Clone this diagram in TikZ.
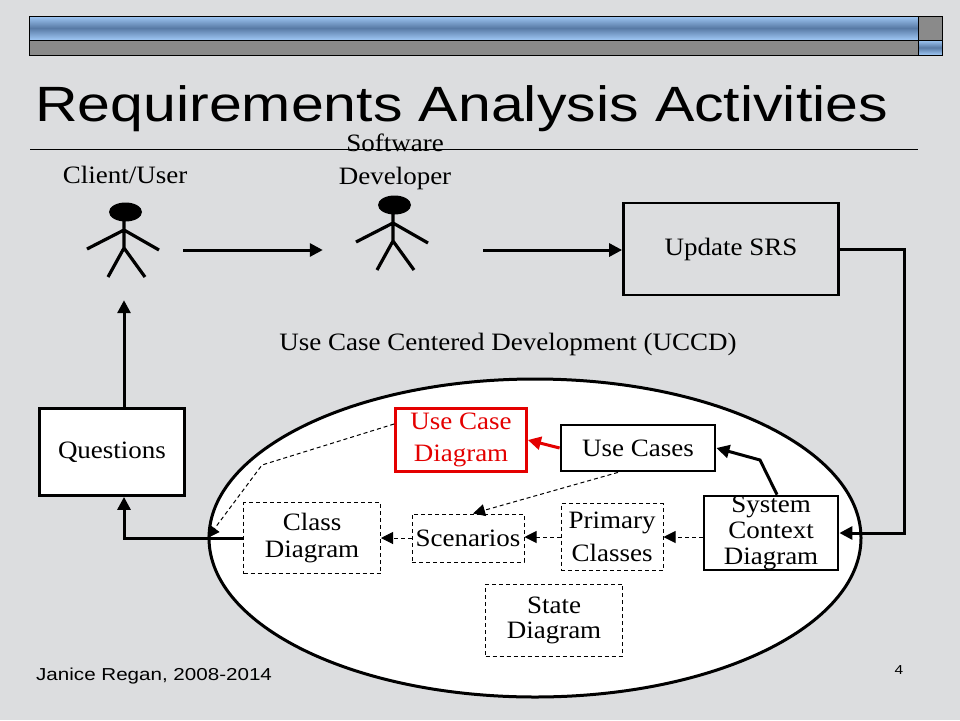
\documentclass[tikz,border=0pt]{standalone}
\usepackage{fontspec}
\setmainfont{Liberation Serif}[FakeStretch=1.08]
\newfontfamily\headfont{Liberation Sans}[FakeStretch=1.19]
\usetikzlibrary{positioning,shapes.geometric,arrows.meta}

\definecolor{slidebg}{RGB}{220,221,223}
\definecolor{barlight}{RGB}{160,200,245}
\definecolor{bardark}{RGB}{88,122,165}
\definecolor{bargray}{RGB}{138,138,138}
\definecolor{ucred}{RGB}{228,0,0}

\tikzset{
  stickman/.pic={
    \fill (1.5,-38) ellipse (16.5 and 9.5);
    \draw[line width=3.2pt] (0,-29) -- (0,-2) (-37,-1) -- (0,-20) -- (35,0)
      (-16,27) -- (0,-2) -- (21,27);
  },
}

\begin{document}
\begin{tikzpicture}[x=1pt,y=-1pt,
    lbl/.style={font=\fontsize{25}{33}\selectfont, align=center, inner sep=0pt},
    box/.style={draw, line width=2.8pt, fill=white, align=center, inner sep=0pt, font=\fontsize{25}{33}\selectfont},
    dbox/.style={draw, line width=1pt, dash pattern=on 4pt off 3pt, fill=white, align=center, inner sep=0pt, font=\fontsize{25}{33}\selectfont},
    actor/.style={minimum width=118pt, minimum height=100pt, inner sep=0pt},
    flow/.style={line width=3pt, -{Triangle[length=13pt,width=13pt]}},
    dflow/.style={line width=1pt, dash pattern=on 4pt off 3pt, -{Triangle[length=12pt,width=12pt]}}]
    % Slide
    \useasboundingbox (0,0) rectangle (960,720);
    \fill[slidebg] (0,0) rectangle (960,720);
    \shade[top color=barlight, bottom color=barlight, middle color=bardark] (29,16) rectangle (918,40);
    \fill[bargray] (918,16) rectangle (942,40);
    \fill[bargray] (29,40) rectangle (918,55);
    \shade[top color=barlight, bottom color=barlight, middle color=bardark] (918,40) rectangle (942,55);
    \draw[line width=1pt] (29,16) rectangle (942,55) (29,40) -- (942,40) (918,16) -- (918,55);
    \node[anchor=base west, inner sep=0pt, font=\headfont\fontsize{49.6}{52}\selectfont] (title) at (35,121) {Requirements Analysis Activities};
    \draw[line width=0.8pt] (30,149) -- (918,149);
    % Nodes
    \node[actor] (client) at (124,250) {};
    \pic at (client) {stickman};
    \node[lbl, anchor=base] (clientlbl) at (125,183) {Client/User};
    \node[actor, minimum width=140pt] (dev) at (393,250) {};
    \pic[yshift=7pt] at (dev) {stickman};
    \node[lbl] (devlbl) at (395,162) {Software\\Developer};
    \node[box, fill=none, minimum width=215pt, minimum height=92pt] (usrs) at (731,249) {Update SRS};
    \node[box, minimum width=145pt, minimum height=87pt] (quest) at (112,452) {Questions};
    \node[lbl, anchor=base] (uccdlbl) at (508,350) {Use Case Centered Development (UCCD)};
    \node[draw, ellipse, fill=white, line width=3pt, minimum width=652pt, minimum height=318pt, inner sep=0pt] (uccd) at (535,538) {};
    \node[box, draw=ucred, text=ucred, font=\fontsize{25}{32}\selectfont, minimum width=131pt, minimum height=63pt] (ucd) at (461,440) {Use Case\\Diagram};
    \node[box, minimum width=154pt, minimum height=46pt] (uc) at (638,448) {Use Cases};
    \node[box, font=\fontsize{25}{26}\selectfont, minimum width=134pt, minimum height=71pt] (scd) at (771,533) {System\\Context\\Diagram};
    \node[dbox, minimum width=102pt, minimum height=67pt] (pc) at (612,537) {Primary\\Classes};
    \node[dbox, minimum width=112pt, minimum height=48pt] (scen) at (468,538) {Scenarios};
    \node[dbox, font=\fontsize{25}{27}\selectfont, minimum width=137pt, minimum height=71pt] (cd) at (312,538) {Class\\Diagram};
    \node[dbox, font=\fontsize{25}{25}\selectfont, minimum width=137pt, minimum height=72pt] (sd) at (554,620) {State\\Diagram};
    \node[anchor=base west, inner sep=0pt, font=\headfont\fontsize{17.3}{19}\selectfont] (footer) at (36,680) {Janice Regan, 2008-2014};
    \node[anchor=base, inner sep=0pt, font=\headfont\fontsize{13}{14}\selectfont] (pageno) at (899,674) {4};
    \coordinate (kink) at (760,460);
    \coordinate (bend) at (262,465);
    % Edges
    \draw[flow] (client.east) -- (dev.west);
    \draw[flow, shorten <=20pt] (dev.east) -- (dev.east -| usrs.west);
    \draw[flow] (usrs.east) -- ++(65,0) |- (scd.east);
    \draw[flow] (quest.north -| client) -- (client.south);
    \draw[flow] (cd.west) -| (quest.south -| client);
    \draw[flow, ucred] (uc.west) -- (ucd.east);
    \draw[flow] ([xshift=6pt]scd.north) -- (kink) -- (uc.east);
    \draw[dflow] (scd.west |- pc) -- (pc.east);
    \draw[dflow] (pc.west) -- (pc.west -| scen.east);
    \draw[dflow] (scen.west) -- (cd.east);
    \draw[dflow] ([xshift=-20pt]uc.south) -- ([xshift=5pt]scen.north);
    \draw[dflow] ([yshift=16pt]ucd.west) -- (bend) -- (uccd.west);
\end{tikzpicture}
\end{document}
